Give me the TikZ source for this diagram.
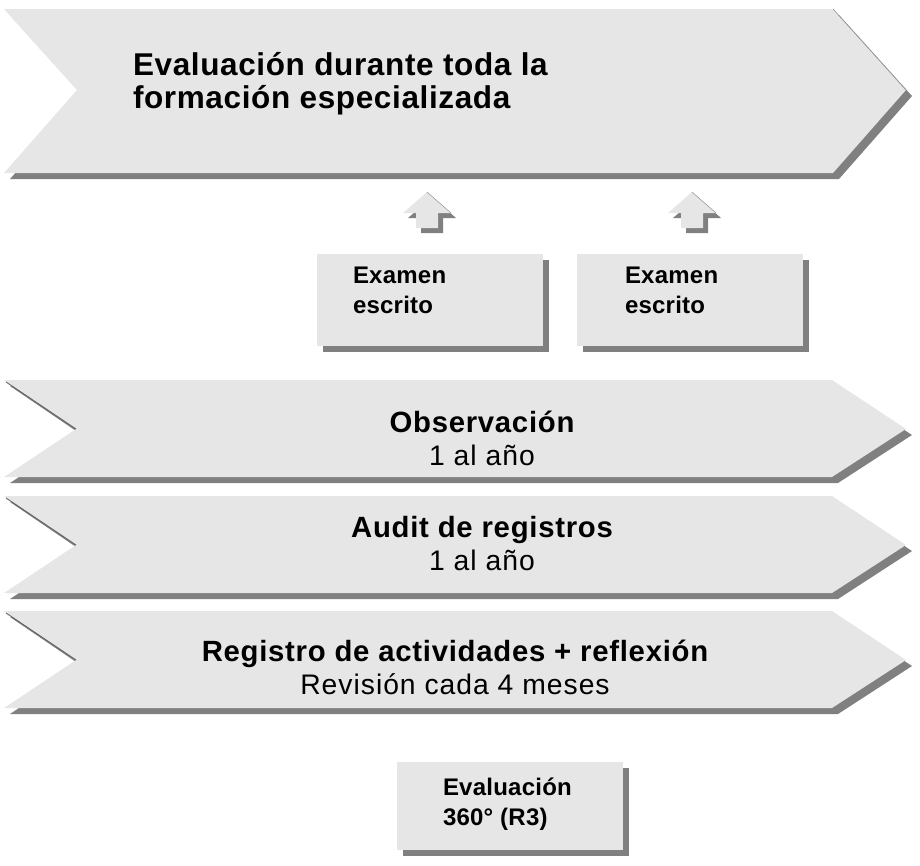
\documentclass[tikz,border=0pt]{standalone}
\usepackage{fontspec}
\setmainfont{Liberation Sans}
\newfontfamily\fontTitle[LetterSpace=2]{Liberation Sans}
\newfontfamily\fontHead[LetterSpace=2.5]{Liberation Sans}
\newfontfamily\fontSub[LetterSpace=3.5]{Liberation Sans}
\newfontfamily\fontBox[LetterSpace=1]{Liberation Sans}
\definecolor{boxfill}{RGB}{230,230,230}
\definecolor{shade}{RGB}{128,128,128}
\definecolor{edgegray}{RGB}{100,100,100}
\begin{document}
\begin{tikzpicture}[x=1pt,y=-1pt,
  txt/.style={anchor=base west, inner sep=0pt, outer sep=0pt},
  ctxt/.style={anchor=base, inner sep=0pt, outer sep=0pt},
  titlefont/.style={font=\fontTitle\bfseries\fontsize{31.5}{36}\selectfont},
  headfont/.style={font=\fontHead\bfseries\fontsize{29.3}{34}\selectfont},
  subfont/.style={font=\fontSub\fontsize{28.3}{32}\selectfont},
  smallfont/.style={font=\fontBox\bfseries\fontsize{24}{28}\selectfont},
  shadowfill/.style={fill=shade},
  mainfill/.style={fill=boxfill},
  edgeline/.style={draw=edgegray, line width=0.9pt},
  ]
\useasboundingbox (0,0) rectangle (920,865);

% ---------- top chevron ----------
\fill[shadowfill, shift={(6,6)}] (4,9) -- (833,9) -- (906,90) -- (833,173) -- (4,173) -- (77,90) -- cycle;
\fill[mainfill] (4,9) -- (833,9) -- (906,90) -- (833,173) -- (4,173) -- (77,90) -- cycle;
\draw[edgeline, draw=edgegray!70, line width=0.6pt] (833,9) -- (906,90);
\node[txt, titlefont] (title1) at (133,75) {Evaluación durante toda la};
\node[txt, titlefont] (title2) at (133,108) {formación especializada};

% ---------- up arrows ----------
\foreach \cx/\nm in {427/arrA, 692/arrB}{
  \fill[shadowfill, shift={(5,5)}] (\cx,192) -- (\cx+24,213) -- (\cx+11,213) -- (\cx+11,228) -- (\cx-11,228) -- (\cx-11,213) -- (\cx-24,213) -- cycle;
  \fill[mainfill] (\cx,192) -- (\cx+24,213) -- (\cx+11,213) -- (\cx+11,228) -- (\cx-11,228) -- (\cx-11,213) -- (\cx-24,213) -- cycle;
  \draw[edgeline, draw=edgegray!70, line width=0.5pt] (\cx,192) -- (\cx+24,213);
}

% ---------- exam boxes ----------
\fill[shadowfill] (323,260) rectangle (549,352);
\fill[mainfill] (317,254) rectangle (543,346);
\node[txt, smallfont] (exA1) at (353,283) {Examen};
\node[txt, smallfont] (exA2) at (353,313) {escrito};

\fill[shadowfill] (583,260) rectangle (809,352);
\fill[mainfill] (577,254) rectangle (803,346);
\node[txt, smallfont] (exB1) at (625,283) {Examen};
\node[txt, smallfont] (exB2) at (625,313) {escrito};

% ---------- lower chevrons ----------
\foreach \T in {380,496,611}{
  \fill[shadowfill, shift={(6,6)}] (4,\T) -- (832,\T) -- (906,\T+49) -- (832,\T+97) -- (4,\T+97) -- (76,\T+49) -- cycle;
  \fill[mainfill] (4,\T) -- (832,\T) -- (906,\T+49) -- (832,\T+97) -- (4,\T+97) -- (76,\T+49) -- cycle;
  \draw[edgeline] (6,\T+2) -- (76,\T+49);
}
\node[ctxt, headfont] (obs1) at (482,432) {Observación};
\node[ctxt, subfont] (obs2) at (482,465) {1 al año};
\node[ctxt, headfont] (aud1) at (482,537) {Audit de registros};
\node[ctxt, subfont] (aud2) at (482,570) {1 al año};
\node[ctxt, headfont] (reg1) at (455,661) {Registro de actividades + reflexión};
\node[ctxt, subfont] (reg2) at (455,694) {Revisión cada 4 meses};

% ---------- bottom box ----------
\fill[shadowfill] (403,768) rectangle (629,856);
\fill[mainfill] (397,762) rectangle (623,850);
\node[txt, smallfont] (ev1) at (443,795) {Evaluación};
\node[txt, smallfont] (ev2) at (443,825) {360° (R3)};
\end{tikzpicture}
\end{document}
